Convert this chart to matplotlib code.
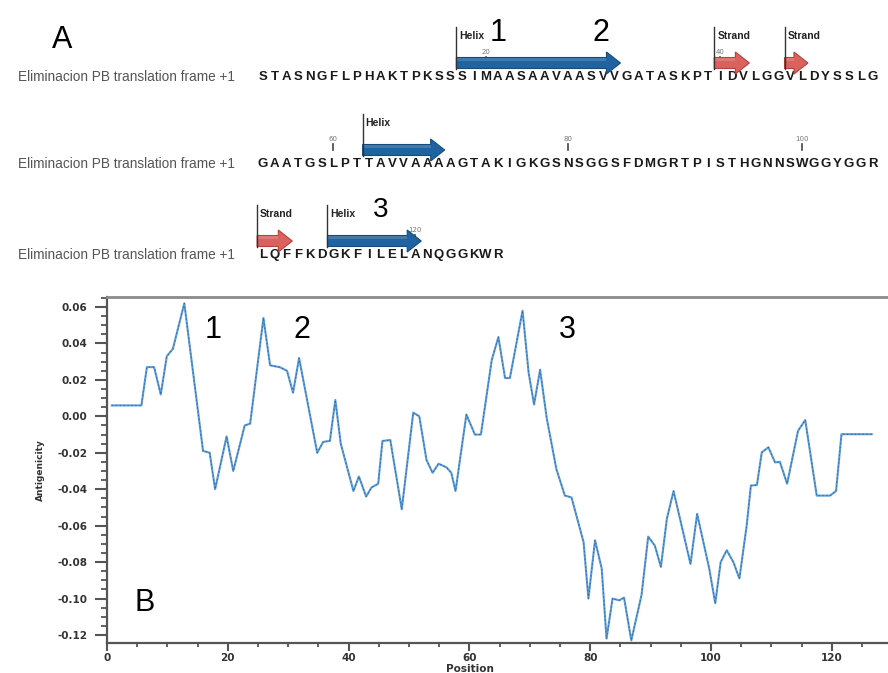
import matplotlib.pyplot as plt
from matplotlib.patches import Polygon
from matplotlib.ticker import MultipleLocator, FormatStrFormatter

plt.rcParams['axes.unicode_minus'] = False

# antigenicity profile (vertices)
position = [0.8, 5.7, 6.6, 7.8, 8.9, 9.9, 10.9, 12.8, 15.9, 17.0, 17.9, 19.8, 20.9, 22.8, 23.7,
            25.9, 27.0, 28.6, 29.8, 30.8, 31.8, 34.8, 35.8, 36.9, 37.8, 38.7, 40.8, 41.7, 42.9,
            43.8, 44.9, 45.6, 46.9, 48.8, 50.7, 51.7, 52.9, 53.9, 54.9, 56.2, 57.0, 57.7, 59.5,
            60.9, 61.9, 63.7, 64.8, 65.9, 66.7, 68.8, 69.8, 70.7, 71.7, 72.8, 74.4, 75.8, 76.9,
            78.9, 79.7, 80.8, 81.9, 82.7, 83.7, 84.8, 85.6, 86.8, 88.5, 89.6, 90.7, 91.7, 92.7,
            93.8, 96.6, 97.7, 99.7, 100.7, 101.6, 102.6, 103.7, 104.7, 105.9, 106.6, 107.6, 108.4,
            109.5, 110.6, 111.4, 112.6, 114.4, 115.6, 117.5, 119.7, 120.7, 121.6, 126.6]
antigenicity = [0.006, 0.006, 0.027, 0.027, 0.012, 0.033, 0.037, 0.062, -0.019, -0.020, -0.040,
                -0.011, -0.030, -0.005, -0.004, 0.054, 0.028, 0.027, 0.025, 0.013, 0.032, -0.020,
                -0.014, -0.0135, 0.009, -0.015, -0.041, -0.033, -0.044, -0.039, -0.037, -0.0135,
                -0.013, -0.051, 0.002, 0.000, -0.024, -0.031, -0.026, -0.028, -0.031, -0.041,
                0.001, -0.010, -0.010, 0.031, 0.0435, 0.021, 0.021, 0.058, 0.024, 0.0065, 0.0256,
                -0.001, -0.029, -0.0435, -0.0445, -0.069, -0.100, -0.068, -0.0835, -0.122, -0.100,
                -0.101, -0.0995, -0.123, -0.098, -0.066, -0.071, -0.0826, -0.056, -0.041, -0.081,
                -0.0535, -0.0835, -0.1026, -0.080, -0.0735, -0.080, -0.089, -0.060, -0.038,
                -0.0377, -0.0198, -0.017, -0.0253, -0.025, -0.037, -0.008, -0.002, -0.0435,
                -0.0435, -0.041, -0.0098, -0.0098]

# sequence panel
seq_rows = ["STASNGFLPHAKTPKSSSIMAASAAVAASVVGATASKPTIDVLGGVLDYSSLG",
            "GAATGSLPTTAVVAAAAGTAKIGKGSNSGGSFDMGRTPISTHGNNSWGGYGGR",
            "LQFFKDGKFILELANQGGKWR"]
row_start = [1, 54, 107]
row_label = "Eliminacion PB translation frame +1"
features = [("Helix", 18, 31), ("Strand", 40, 42), ("Strand", 46, 47),
            ("Helix", 63, 69), ("Strand", 107, 109), ("Helix", 113, 120)]
pos_marks = [20, 40, 60, 80, 100, 120]
region_labels = ["1", "2", "3"]

# layout (pixels)
row_y = [77, 164, 255]
x0, dx = 263, 11.72
feat_color = {"Helix": ("#1f64a0", "#164c7c"), "Strand": ("#d9625f", "#b8403d")}

fig = plt.figure(figsize=(8.88, 6.73), dpi=100)

# ---- panel B: antigenicity plot
ax = fig.add_axes([107 / 888, 30 / 673, 781 / 888, 346 / 673])
ax.plot(position, antigenicity, color="#5b9bd5", lw=1.5)
ax.plot(position, antigenicity, color="#2f6aa5", lw=0.7, dashes=(1.5, 2.5))
ax.set_xlim(0, 129.3)
ax.set_ylim(-0.1244, 0.0655)
ax.xaxis.set_major_locator(MultipleLocator(20))
ax.xaxis.set_minor_locator(MultipleLocator(5))
ax.yaxis.set_major_locator(MultipleLocator(0.02))
ax.yaxis.set_minor_locator(MultipleLocator(0.005))
ax.yaxis.set_major_formatter(FormatStrFormatter('%.2f'))
ax.spines['right'].set_visible(False)
ax.spines['top'].set_color('#8a8a8a')
ax.spines['top'].set_linewidth(2)
for s in ['left', 'bottom']:
    ax.spines[s].set_color('#555555')
    ax.spines[s].set_linewidth(1.6)
ax.tick_params(axis='y', which='major', length=9, width=1.5, color='#555555', pad=5)
ax.tick_params(axis='y', which='minor', length=4.5, width=1.3, color='#555555')
ax.tick_params(axis='x', which='major', length=6, width=1.5, color='#555555', pad=1.5)
ax.tick_params(axis='x', which='minor', length=3, width=1.3, color='#555555')
for lab in ax.get_xticklabels() + ax.get_yticklabels():
    lab.set_fontweight('bold')
    lab.set_fontsize(7.5)
    lab.set_color('#333333')
ax.set_ylabel("Antigenicity", fontsize=6.5, fontweight='bold', color='#333333')
ax.yaxis.set_label_coords(-0.08, 0.5)
ax.set_xlabel("Position", fontsize=7.5, fontweight='bold', color='#333333', va='top')
ax.xaxis.set_label_coords((470 - 107) / 781, -0.062)
for lab, xp in zip(region_labels, [17.5, 32.3, 76.2]):
    ax.text(xp, 0.0475, lab, fontsize=22, family='Liberation Sans', ha='center', va='center')
ax.text(6.3, -0.1026, "B", fontsize=22, family='Liberation Sans', ha='center', va='center')

# ---- panel A: sequence with secondary structure
ov = fig.add_axes([0, 0, 1, 1])
ov.set_xlim(0, 888)
ov.set_ylim(673, 0)
ov.axis('off')


def res_x(i, r):
    return x0 + (i - row_start[r]) * dx


for r, seq in enumerate(seq_rows):
    y = row_y[r]
    ov.text(18, y, row_label, fontsize=9.8, color='#555555', ha='left', va='center',
            family='Liberation Sans')
    for k, ch in enumerate(seq):
        ov.text(x0 + k * dx, y, ch, fontsize=9.5, fontweight='bold', color='#1a1a1a',
                ha='center', va='center', family='Liberation Sans')
    for p in pos_marks:
        if row_start[r] <= p < row_start[r] + len(seq):
            xp = res_x(p, r)
            ov.text(xp, y - 25, str(p), fontsize=5, color='#777777', ha='center', va='center')
            ov.plot([xp, xp], [y - 20, y - 14], color='#444444', lw=1.2)

for name, a, b in features:
    r = next(k for k in range(3) if row_start[k] <= a < row_start[k] + len(seq_rows[k]))
    y = row_y[r]
    xs = res_x(a, r) - dx / 2
    xe = res_x(b, r) + dx / 2
    yc = y - 14
    h, H, hl = 11, 22, 14
    fc, ec = feat_color[name]
    pts = [(xs, yc - h / 2), (xe - hl, yc - h / 2), (xe - hl, yc - H / 2), (xe, yc),
           (xe - hl, yc + H / 2), (xe - hl, yc + h / 2), (xs, yc + h / 2)]
    ov.add_patch(Polygon(pts, closed=True, facecolor=fc, edgecolor=ec, lw=0.8, zorder=3))
    ov.add_patch(Polygon([(xs, yc - h / 2), (xe - hl, yc - h / 2), (xe - hl, yc - h / 6),
                          (xs, yc - h / 6)], closed=True, facecolor='white', alpha=0.15,
                         lw=0, zorder=4))
    ov.plot([xs, xs], [yc + h / 2, y - 50], color='#333333', lw=1, zorder=5)
    ov.text(xs + 3, y - 41, name, fontsize=7.5, fontweight='bold', color='#222222',
            ha='left', va='center', family='Liberation Sans')

ov.text(62, 40, "A", fontsize=22, family='Liberation Sans', ha='center', va='center')
ov.text(498, 33, "1", fontsize=22, family='Liberation Sans', ha='center', va='center')
ov.text(601, 33, "2", fontsize=22, family='Liberation Sans', ha='center', va='center')
ov.text(381, 210, "3", fontsize=20, family='Liberation Sans', ha='center', va='center')

fig.savefig("out.png", dpi=100)
